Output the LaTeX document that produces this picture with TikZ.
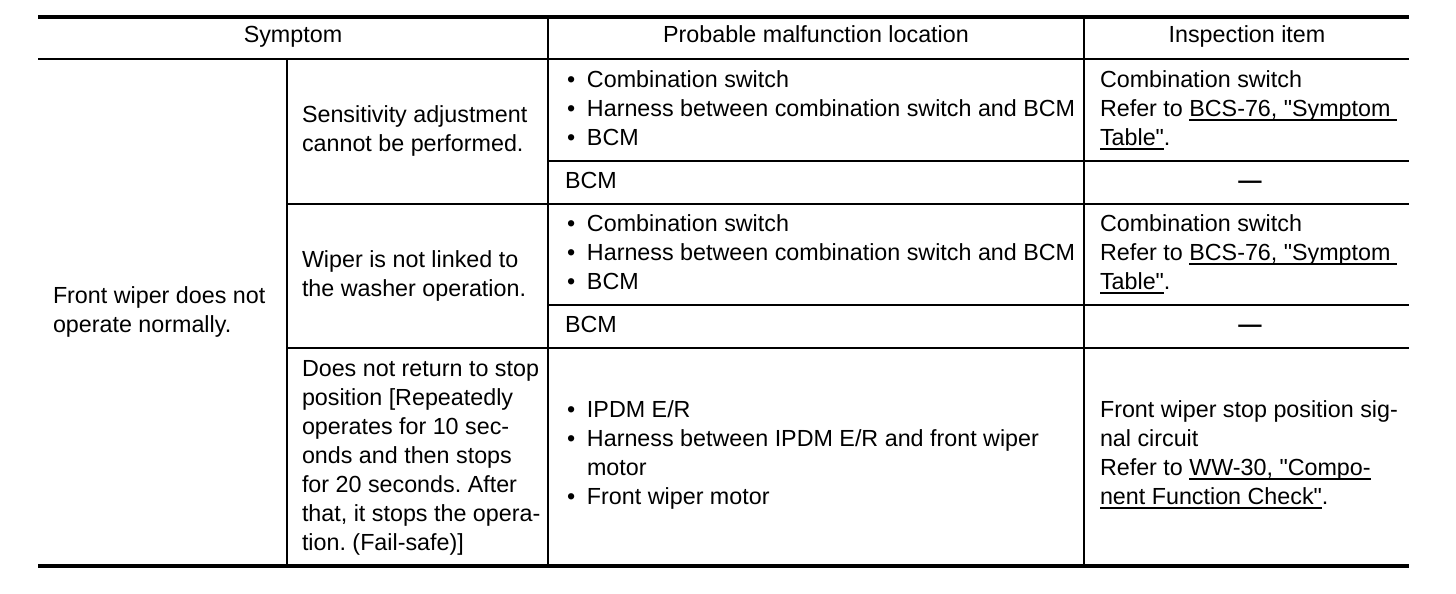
\documentclass[tikz,border=0pt]{standalone}
\usepackage{fontspec}
\setmainfont{Liberation Sans}[Ligatures=TeXOff]
\frenchspacing
\newcommand\sr{\rule[-8.5pt]{0pt}{29pt}}
\newcommand\bul{\makebox[20pt][l]{•}}
\newcommand\ind{\hspace*{20pt}}
\newcommand\dq{\char"0022\relax}
\newsavebox\mybox
\newcommand\myul[1]{\sbox\mybox{#1}\rlap{\rule[-4.6pt]{\wd\mybox}{1.8pt}}\usebox\mybox}
\begin{document}
\begin{tikzpicture}[x=1pt,y=-1pt,
  txt/.style={inner sep=0pt,outer sep=0pt,anchor=west,align=left,font=\fontsize{23.3}{29}\selectfont},
  hd/.style={inner sep=0pt,outer sep=0pt,anchor=center,font=\fontsize{23.3}{29}\selectfont},
  thick rule/.style={line width=4pt},
  mid rule/.style={line width=2.6pt},
  thin rule/.style={line width=1.6pt}]
\useasboundingbox (0,0) rectangle (1456,594);
% frame coordinates
\coordinate (tl) at (38,17);
\coordinate (tr) at (1409,17);
\coordinate (hl) at (38,59);
\coordinate (hr) at (1409,59);
\coordinate (bl) at (38,566);
\coordinate (br) at (1409,566);
% rules
\draw[thick rule] (tl) -- (tr);
\draw[mid rule] (hl) -- (hr);
\draw[thick rule] (bl) -- (br);
\draw[thin rule] (287,59) -- (287,566);
\draw[thin rule] (548,17) -- (548,566);
\draw[thin rule] (1084,17) -- (1084,566);
\draw[thin rule] (548,161) -- (1409,161);
\draw[thin rule] (287,204) -- (1409,204);
\draw[thin rule] (548,305) -- (1409,305);
\draw[thin rule] (287,348) -- (1409,348);
% header
\node[hd] (h1) at (293,37) {\sr Symptom};
\node[hd] (h2) at (816,37) {\sr Probable malfunction location};
\node[hd] (h3) at (1247,37) {\sr Inspection item};
% column 1
\node[txt] (c1) at (53,312) {\sr Front wiper does not\\\sr operate normally.};
% column 2
\node[txt] (s1) at (302,131) {\sr Sensitivity adjustment\\\sr cannot be performed.};
\node[txt] (s2) at (302,276) {\sr Wiper is not linked to\\\sr the washer operation.};
\node[txt] (s3) at (302,457) {\sr Does not return to stop\\\sr position [Repeatedly\\\sr operates for 10 sec-\\\sr onds and then stops\\\sr for 20 seconds. After\\\sr that, it stops the opera-\\\sr tion. (Fail-safe)]};
% column 3
\node[txt] (p1) at (567,110) {\sr\bul Combination switch\\\sr\bul Harness between combination switch and BCM\\\sr\bul BCM};
\node[txt] (p2) at (565,182.5) {\sr BCM};
\node[txt] (p3) at (567,254) {\sr\bul Combination switch\\\sr\bul Harness between combination switch and BCM\\\sr\bul BCM};
\node[txt] (p4) at (565,326.5) {\sr BCM};
\node[txt] (p5) at (567,455) {\sr\bul IPDM E/R\\\sr\bul Harness between IPDM E/R and front wiper\\\sr\ind motor\\\sr\bul Front wiper motor};
% column 4
\node[txt] (i1) at (1100,110) {\sr Combination switch\\\sr Refer to \myul{BCS-76, \dq Symptom\ }\\\sr\myul{Table\dq}.};
\node[hd] (i2) at (1250,182.5) {\sr\textbf{—}};
\node[txt] (i3) at (1100,254) {\sr Combination switch\\\sr Refer to \myul{BCS-76, \dq Symptom\ }\\\sr\myul{Table\dq}.};
\node[hd] (i4) at (1250,326.5) {\sr\textbf{—}};
\node[txt] (i5) at (1100,455) {\sr Front wiper stop position sig-\\\sr nal circuit\\\sr Refer to \myul{WW-30, \dq Compo-}\\\sr\myul{nent Function Check\dq}.};
\end{tikzpicture}
\end{document}
